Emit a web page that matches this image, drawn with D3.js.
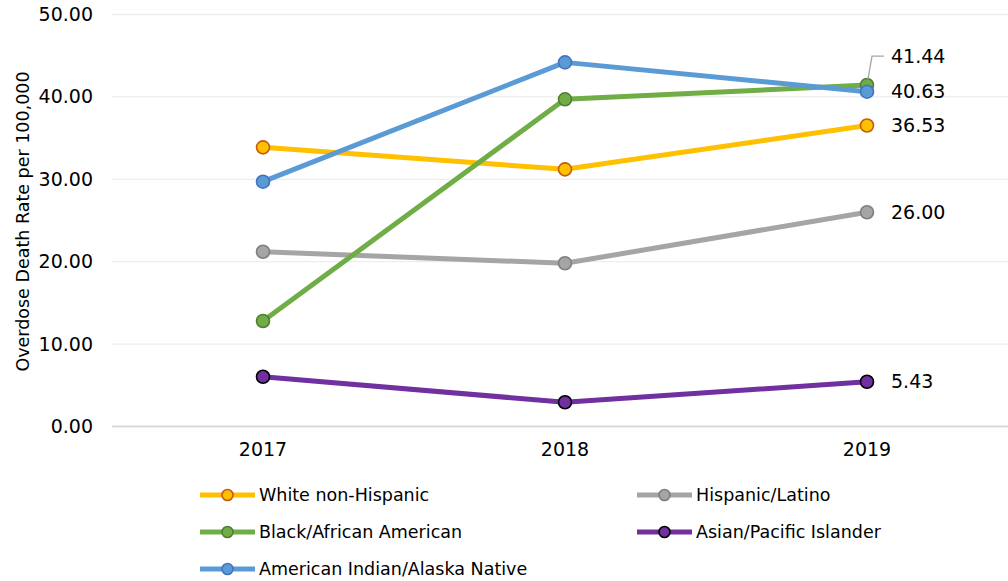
<!DOCTYPE html>
<html><head><meta charset="utf-8">
<script src="https://cdn.jsdelivr.net/npm/d3@7"></script>
<style>body{margin:0;background:#fff}svg{display:block}text{font-family:"DejaVu Sans",sans-serif;fill:#000}</style>
</head><body><svg id="c" width="1008" height="581"></svg>
<script>
const years = ["2017","2018","2019"];
const seriesNames = ["White non-Hispanic","Hispanic/Latino","Black/African American","Asian/Pacific Islander","American Indian/Alaska Native"];
const whiteVals = [33.88, 31.21, 36.53];
const hispanicVals = [21.21, 19.81, 26.00];
const blackVals = [12.80, 39.71, 41.44];
const asianVals = [6.04, 2.94, 5.43];
const aianVals = [29.71, 44.19, 40.63];
const yTicks = [0,10,20,30,40,50];

const lineColors = ["#FFC000","#A5A5A5","#70AD47","#7030A0","#5B9BD5"];
const markerStroke = ["#C55A11","#7F7F7F","#507E32","#000000","#4472C4"];
const seriesVals = [whiteVals, hispanicVals, blackVals, asianVals, aianVals];
const FONT = "DejaVu Sans, sans-serif";

const svg = d3.select("#c");
const x = d3.scaleBand().domain(years).range([112,1018]).padding(0);
const cx = d => x(d) + x.bandwidth()/2;
const y = d3.scaleLinear().domain([0,50]).range([426.5,14.5]);

// gridlines
svg.append("g").selectAll("line").data(yTicks).join("line")
  .attr("x1",112).attr("x2",1018).attr("y1",d=>y(d)).attr("y2",d=>y(d))
  .attr("stroke",d=>d===0?"#D9D9D9":"#EDEDED").attr("stroke-width",d=>d===0?2:1.3);

// y axis labels
const yAxis = svg.append("g").attr("transform","translate(100,0)")
  .call(d3.axisLeft(y).tickValues(yTicks).tickFormat(d3.format(".2f")).tickSize(0).tickPadding(7));
yAxis.select(".domain").remove();
yAxis.selectAll("text").attr("font-size",19).attr("fill","#000").attr("font-family",FONT);

// x axis labels
const xAxis = svg.append("g").attr("transform","translate(0,426.5)")
  .call(d3.axisBottom(x).tickSize(0).tickPadding(16));
xAxis.select(".domain").remove();
xAxis.selectAll("text").attr("font-size",19).attr("fill","#000").attr("font-family",FONT);

// y axis title
svg.append("text").attr("transform","translate(23,221.5) rotate(-90)").attr("text-anchor","middle")
  .attr("dy","0.35em").attr("font-size",17.5).text("Overdose Death Rate per 100,000");

// lines (draw order)
const order = [1,3,0,2,4];
const line = d3.line().x((d,i)=>cx(years[i])).y(d=>y(d));
order.forEach(k=>{
  svg.append("path").datum(seriesVals[k]).attr("d",line).attr("fill","none")
    .attr("stroke",lineColors[k]).attr("stroke-width",5).attr("stroke-linejoin","round");
  svg.append("g").selectAll("circle").data(seriesVals[k]).join("circle")
    .attr("cx",(d,i)=>cx(years[i])).attr("cy",d=>y(d)).attr("r",6.5)
    .attr("fill",lineColors[k]).attr("stroke",markerStroke[k]).attr("stroke-width",1.6);
});

// data labels for 2019
const lx = cx("2019") + 24;
const labelOffsets = [0,0,-29,0,0];
seriesVals.forEach((v,k)=>{
  const val = v[2];
  svg.append("text").attr("x",lx).attr("y",y(val)+labelOffsets[k]).attr("dy","0.35em")
    .attr("font-size",19).text(d3.format(".2f")(val));
});
// leader line for Black label
{
  const px = cx("2019"), py = y(blackVals[2]);
  svg.append("path").attr("d",`M${px+1},${py-6} L${px+5},${py-29} L${px+17},${py-29}`)
    .attr("fill","none").attr("stroke","#A6A6A6").attr("stroke-width",1.3);
}

// legend
const legendPos = [[200,495],[637,495],[200,532],[637,532],[200,569]];
seriesNames.forEach((n,k)=>{
  const [lx0,ly] = legendPos[k];
  const g = svg.append("g");
  g.append("line").attr("x1",lx0).attr("x2",lx0+55).attr("y1",ly).attr("y2",ly)
    .attr("stroke",lineColors[k]).attr("stroke-width",5);
  g.append("circle").attr("cx",lx0+27.5).attr("cy",ly).attr("r",5.5)
    .attr("fill",lineColors[k]).attr("stroke",markerStroke[k]).attr("stroke-width",1.6);
  g.append("text").attr("x",lx0+59).attr("y",ly).attr("dy","0.35em").attr("font-size",17.5).text(n);
});
</script></body></html>
